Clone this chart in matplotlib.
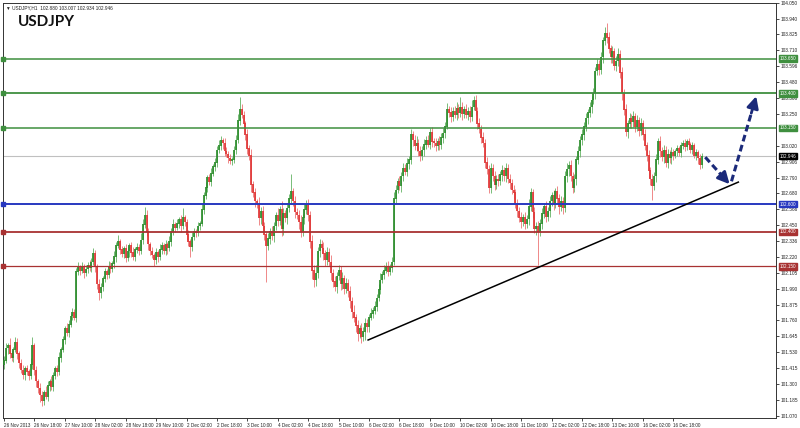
import matplotlib
matplotlib.use("Agg")
import matplotlib.pyplot as plt

# ---- data (USDJPY H1) ----
first_open = 101.44
# closes, one row per 16 bars (one x label step)
closes = [
    101.47, 101.56, 101.58, 101.52, 101.49, 101.55, 101.60, 101.52, 101.45, 101.40, 101.37, 101.41, 101.39, 101.36, 101.44, 101.58,
    101.40, 101.32, 101.27, 101.22, 101.18, 101.24, 101.21, 101.29, 101.32, 101.28, 101.36, 101.41, 101.39, 101.49, 101.55, 101.62,
    101.70, 101.67, 101.73, 101.79, 101.82, 101.78, 102.11, 102.14, 102.12, 102.15, 102.10, 102.13, 102.16, 102.14, 102.18, 102.24,
    102.15, 102.02, 101.96, 102.00, 102.06, 102.11, 102.09, 102.15, 102.13, 102.17, 102.22, 102.30, 102.33, 102.27, 102.24, 102.28,
    102.21, 102.26, 102.30, 102.25, 102.22, 102.27, 102.29, 102.26, 102.34, 102.45, 102.52, 102.40, 102.31, 102.26, 102.23, 102.20,
    102.25, 102.22, 102.27, 102.30, 102.26, 102.31, 102.28, 102.33, 102.40, 102.45, 102.43, 102.46, 102.49, 102.44, 102.50, 102.47,
    102.38, 102.33, 102.29, 102.36, 102.40, 102.39, 102.44, 102.46, 102.56, 102.66, 102.72, 102.79, 102.76, 102.82, 102.87, 102.90,
    102.99, 103.02, 103.06, 103.04, 102.98, 102.96, 102.93, 102.91, 102.92, 102.99, 103.06, 103.20, 103.28, 103.24, 103.18, 103.10,
    103.00, 102.95, 102.74, 102.68, 102.62, 102.60, 102.50, 102.55, 102.44, 102.38, 102.30, 102.35, 102.40, 102.37, 102.44, 102.52,
    102.48, 102.56, 102.42, 102.53, 102.50, 102.57, 102.64, 102.69, 102.62, 102.54, 102.52, 102.47, 102.40, 102.50, 102.56, 102.60,
    102.52, 102.33, 102.12, 102.05, 102.10, 102.26, 102.31, 102.28, 102.24, 102.20, 102.25, 102.18, 102.10, 102.04, 102.00, 102.08,
    102.12, 102.02, 102.06, 101.99, 102.03, 101.97, 101.90, 101.82, 101.78, 101.72, 101.66, 101.70, 101.64, 101.68, 101.74, 101.71,
    101.78, 101.81, 101.83, 101.86, 101.92, 101.98, 102.05, 102.09, 102.12, 102.15, 102.11, 102.14, 102.18, 102.64, 102.70, 102.76,
    102.73, 102.80, 102.86, 102.83, 102.89, 102.92, 103.10, 103.06, 103.02, 103.04, 102.98, 102.95, 102.99, 103.03, 103.06, 103.03,
    103.12, 103.05, 103.04, 103.02, 103.05, 103.03, 103.08, 103.11, 103.16, 103.28, 103.26, 103.23, 103.27, 103.24, 103.29, 103.26,
    103.30, 103.25, 103.28, 103.24, 103.27, 103.23, 103.30, 103.35, 103.27, 103.18, 103.14, 103.08, 103.04, 102.90, 102.85, 102.72,
    102.86, 102.80, 102.74, 102.78, 102.77, 102.81, 102.84, 102.80, 102.86, 102.78, 102.75, 102.70, 102.68, 102.60, 102.55, 102.50,
    102.47, 102.50, 102.46, 102.49, 102.58, 102.68, 102.54, 102.42, 102.44, 102.40, 102.46, 102.53, 102.58, 102.51, 102.55, 102.62,
    102.66, 102.60, 102.69, 102.64, 102.58, 102.62, 102.57, 102.80, 102.85, 102.88, 102.80, 102.72, 102.78, 102.92, 102.98, 103.06,
    103.10, 103.16, 103.22, 103.26, 103.30, 103.35, 103.40, 103.56, 103.61, 103.57, 103.66, 103.78, 103.83, 103.80, 103.72, 103.66,
    103.70, 103.60, 103.63, 103.68, 103.55, 103.40, 103.28, 103.12, 103.18, 103.22, 103.19, 103.23, 103.16, 103.20, 103.13, 103.18,
    103.10, 103.02, 102.95, 102.84, 102.78, 102.73, 102.80, 102.92, 103.05, 102.98, 102.94, 102.99, 102.90, 102.96, 102.93, 102.97,
    102.95, 102.98, 103.00, 102.97, 103.02, 103.04, 103.01, 103.05, 103.03, 102.99, 103.02, 102.95, 102.97, 102.93, 102.88, 102.946,
]
# wick lengths in pips (0.01) above max(open, close) / below min(open, close)
upper_wick = [
    3, 4, 2, 5, 3, 2, 4, 3, 2, 3, 4, 2, 3, 2, 5, 6,
    2, 3, 2, 4, 3, 2, 5, 3, 2, 4, 3, 2, 3, 4, 2, 3,
    2, 4, 3, 2, 3, 2, 3, 4, 2, 3, 2, 3, 2, 4, 3, 4,
    3, 2, 4, 3, 2, 3, 2, 4, 3, 2, 4, 3, 5, 2, 3, 2,
    3, 4, 2, 3, 4, 2, 3, 2, 5, 4, 6, 4, 3, 2, 3, 2,
    3, 2, 4, 3, 2, 3, 2, 4, 3, 4, 2, 3, 2, 3, 7, 2,
    2, 3, 2, 4, 3, 2, 3, 2, 4, 3, 4, 2, 3, 4, 2, 3,
    3, 4, 3, 2, 4, 3, 2, 3, 2, 3, 4, 5, 9, 4, 3, 2,
    4, 3, 5, 3, 4, 2, 5, 3, 4, 3, 2, 4, 3, 4, 3, 2,
    5, 3, 6, 4, 3, 4, 3, 13, 3, 4, 3, 4, 5, 3, 4, 3,
    4, 3, 5, 4, 6, 3, 4, 3, 5, 3, 4, 3, 5, 3, 4, 3,
    4, 3, 5, 3, 4, 3, 4, 3, 5, 3, 4, 3, 4, 3, 4, 3,
    3, 4, 3, 4, 3, 4, 5, 3, 4, 3, 4, 3, 4, 5, 4, 3,
    4, 3, 4, 3, 4, 3, 4, 3, 4, 5, 3, 4, 3, 4, 3, 4,
    3, 4, 3, 4, 3, 4, 3, 4, 3, 5, 3, 4, 3, 4, 5, 3,
    7, 4, 3, 4, 3, 4, 5, 3, 4, 3, 4, 3, 4, 3, 4, 3,
    4, 3, 4, 3, 4, 3, 4, 3, 4, 3, 4, 3, 4, 3, 4, 3,
    4, 3, 4, 3, 6, 4, 3, 4, 3, 4, 3, 4, 3, 4, 3, 4,
    3, 4, 3, 4, 3, 4, 3, 4, 5, 3, 4, 3, 4, 3, 4, 3,
    4, 3, 4, 3, 4, 3, 4, 3, 4, 3, 4, 3, 5, 8, 4, 3,
    4, 3, 4, 5, 3, 4, 3, 4, 3, 4, 3, 4, 3, 4, 3, 4,
    3, 4, 3, 4, 3, 4, 3, 4, 3, 4, 3, 4, 3, 4, 3, 4,
    3, 2, 3, 2, 3, 2, 3, 2, 3, 2, 3, 2, 3, 2, 3, 2,
]
lower_wick = [
    3, 2, 4, 3, 2, 3, 2, 4, 3, 2, 3, 4, 2, 3, 2, 3,
    3, 4, 3, 5, 4, 3, 2, 3, 4, 2, 3, 2, 3, 2, 3, 2,
    3, 2, 3, 2, 3, 2, 3, 2, 3, 2, 3, 2, 3, 2, 3, 2,
    4, 3, 5, 4, 3, 2, 3, 2, 3, 2, 3, 4, 2, 3, 2, 3,
    3, 2, 4, 3, 2, 3, 2, 3, 2, 3, 2, 3, 4, 3, 2, 5,
    3, 4, 2, 3, 2, 3, 4, 2, 3, 2, 3, 2, 3, 4, 2, 3,
    4, 3, 7, 3, 2, 3, 2, 3, 2, 3, 2, 3, 2, 3, 2, 3,
    3, 2, 3, 4, 3, 2, 3, 2, 3, 2, 3, 2, 3, 2, 3, 4,
    4, 3, 5, 3, 4, 3, 5, 4, 3, 4, 26, 3, 4, 3, 4, 3,
    4, 3, 5, 4, 3, 4, 3, 4, 3, 4, 3, 5, 4, 3, 4, 3,
    4, 5, 6, 5, 4, 3, 4, 3, 4, 5, 4, 3, 5, 4, 3, 4,
    3, 4, 3, 4, 3, 4, 5, 4, 3, 4, 5, 3, 4, 3, 6, 3,
    3, 2, 3, 2, 3, 2, 3, 2, 3, 2, 3, 2, 3, 2, 3, 2,
    3, 4, 3, 2, 3, 4, 3, 4, 3, 4, 3, 4, 3, 4, 3, 2,
    3, 4, 3, 4, 3, 4, 3, 4, 3, 2, 3, 4, 3, 2, 3, 4,
    3, 4, 3, 2, 3, 4, 3, 2, 3, 4, 3, 4, 3, 4, 3, 4,
    4, 3, 4, 3, 4, 3, 4, 3, 4, 3, 4, 3, 4, 3, 4, 3,
    4, 3, 4, 3, 4, 3, 4, 3, 4, 24, 3, 4, 3, 4, 3, 4,
    3, 4, 3, 4, 5, 3, 4, 3, 4, 5, 3, 4, 3, 4, 3, 4,
    3, 4, 3, 4, 3, 4, 3, 4, 3, 4, 3, 4, 3, 4, 3, 4,
    4, 3, 4, 3, 4, 5, 4, 3, 4, 3, 4, 3, 4, 3, 4, 3,
    4, 3, 4, 5, 4, 10, 3, 4, 3, 4, 3, 4, 3, 4, 3, 4,
    3, 2, 3, 2, 3, 2, 3, 2, 3, 2, 3, 2, 3, 4, 3, 2,
]

time_labels = ["26 Nov 2013", "26 Nov 18:00", "27 Nov 10:00", "28 Nov 02:00", "28 Nov 18:00",
               "29 Nov 10:00", "2 Dec 02:00", "2 Dec 18:00", "3 Dec 10:00", "4 Dec 02:00",
               "4 Dec 18:00", "5 Dec 10:00", "6 Dec 02:00", "6 Dec 18:00", "9 Dec 10:00",
               "10 Dec 02:00", "10 Dec 18:00", "11 Dec 10:00", "12 Dec 02:00", "12 Dec 18:00",
               "13 Dec 10:00", "16 Dec 02:00", "16 Dec 18:00"]
label_step = 16

price_ticks = [101.070, 101.185, 101.300, 101.415, 101.530, 101.645, 101.760, 101.875, 101.990,
               102.105, 102.220, 102.336, 102.450, 102.566, 102.680, 102.790, 102.906, 103.020,
               103.250, 103.368, 103.480, 103.596, 103.710, 103.825, 103.940, 104.050]

# support / resistance levels: (price, colour, width)
levels = [(103.650, "#3f8f3f", 1.1), (103.400, "#3f8f3f", 1.3), (103.150, "#3f8f3f", 1.1),
          (102.600, "#2838c0", 1.4), (102.400, "#a83232", 1.3), (102.150, "#a83232", 0.9)]
last_price = 102.946

trend_line = [(191.5, 101.619), (386.2, 102.759)]
arrow_down = [(368.8, 102.939), (381.6, 102.744)]
arrow_up = [(382.6, 102.765), (395.6, 103.379)]

header = "USDJPY,H1  102.880 103.007 102.934 102.946"

small = ["Liberation Sans", "DejaVu Sans"]

# ---- figure ----
fig = plt.figure(figsize=(8.0, 4.28), dpi=100)
fig.patch.set_facecolor("white")
ax = fig.add_axes([3 / 800, 10 / 428, 773 / 800, 415 / 428])

opens = [first_open] + closes[:-1]  # H1 bars open where the previous one closed
n = len(closes)
xs = list(range(n))
for i in xs:
    o, c = opens[i], closes[i]
    hi = max(o, c) + upper_wick[i] / 100
    lo = min(o, c) - lower_wick[i] / 100
    up = c >= o
    body_col = "#2c8c2c" if up else "#e03535"
    wick_col = "#6fb86f" if up else "#ee8080"
    ax.vlines(i, lo, hi, color=wick_col, lw=0.65, zorder=2)
    ax.vlines(i, min(o, c), max(o, c) + 0.004, color=body_col, lw=1.25, zorder=3)

ax.axhline(last_price, color="#c0c0c0", lw=0.8, zorder=1)
for p, col, w in levels:
    ax.axhline(p, color=col, lw=w, zorder=4)
    ax.plot([-0.5], [p], marker="s", ms=2.5, color=col, clip_on=False, zorder=5)

(tx0, ty0), (tx1, ty1) = trend_line
ax.plot([tx0, tx1], [ty0, ty1], color="black", lw=1.1, zorder=6)

navy = "#1b2a7a"
for (x0, y0), (x1, y1) in (arrow_down, arrow_up):
    fx = x0 + (x1 - x0) * 0.8
    fy = y0 + (y1 - y0) * 0.8
    ax.plot([x0, fx], [y0, fy], color=navy, lw=2.2, ls=(0, (2.2, 1.2)), zorder=7,
            solid_capstyle="butt", dash_capstyle="butt")
    ax.annotate("", xy=(x1, y1), xytext=(fx, fy),
                arrowprops=dict(arrowstyle="-|>,head_length=0.7,head_width=0.35",
                                color=navy, lw=2.0, shrinkA=0, shrinkB=0), zorder=7)

ax.set_xlim(-0.5, 406)
ax.set_ylim(101.056, 104.052)

ax.set_xticks(range(0, label_step * len(time_labels), label_step))
ax.set_xticklabels(time_labels, fontsize=3.3, ha="left", color="#222222", family=small)
ax.tick_params(axis="x", length=2.5, width=0.5, pad=0.8)

ax.yaxis.tick_right()
ax.set_yticks(price_ticks)
ax.set_yticklabels([f"{v:.3f}" for v in price_ticks], fontsize=3.4, color="#222222", family=small)
ax.tick_params(axis="y", length=2, width=0.5, pad=1.2)

for s in ax.spines.values():
    s.set_linewidth(0.7)
    s.set_color("#333333")

# price boxes on the right axis
ytr = ax.get_yaxis_transform()
for p, col, w in levels:
    ax.text(1.0045, p, f"{p:.3f}", transform=ytr, fontsize=3.3, color="white", family=small,
            va="center", ha="left", clip_on=False, zorder=10,
            bbox=dict(boxstyle="square,pad=0.15", fc=col, ec=col))
ax.text(1.0045, last_price, f"{last_price:.3f}", transform=ytr, fontsize=3.3, color="white",
        family=small, va="center", ha="left", clip_on=False, zorder=10,
        bbox=dict(boxstyle="square,pad=0.15", fc="black", ec="black"))

ax.text(0.004, 0.995, "\u25bc " + header, transform=ax.transAxes, fontsize=3.4, family=small,
        va="top", ha="left", color="#222222")
ax.text(0.019, 0.972, "USDJPY", transform=ax.transAxes, fontsize=11, fontweight="bold",
        family="Lato", va="top", ha="left", color="#111111")

fig.savefig("out.png", dpi=100, facecolor="white")
